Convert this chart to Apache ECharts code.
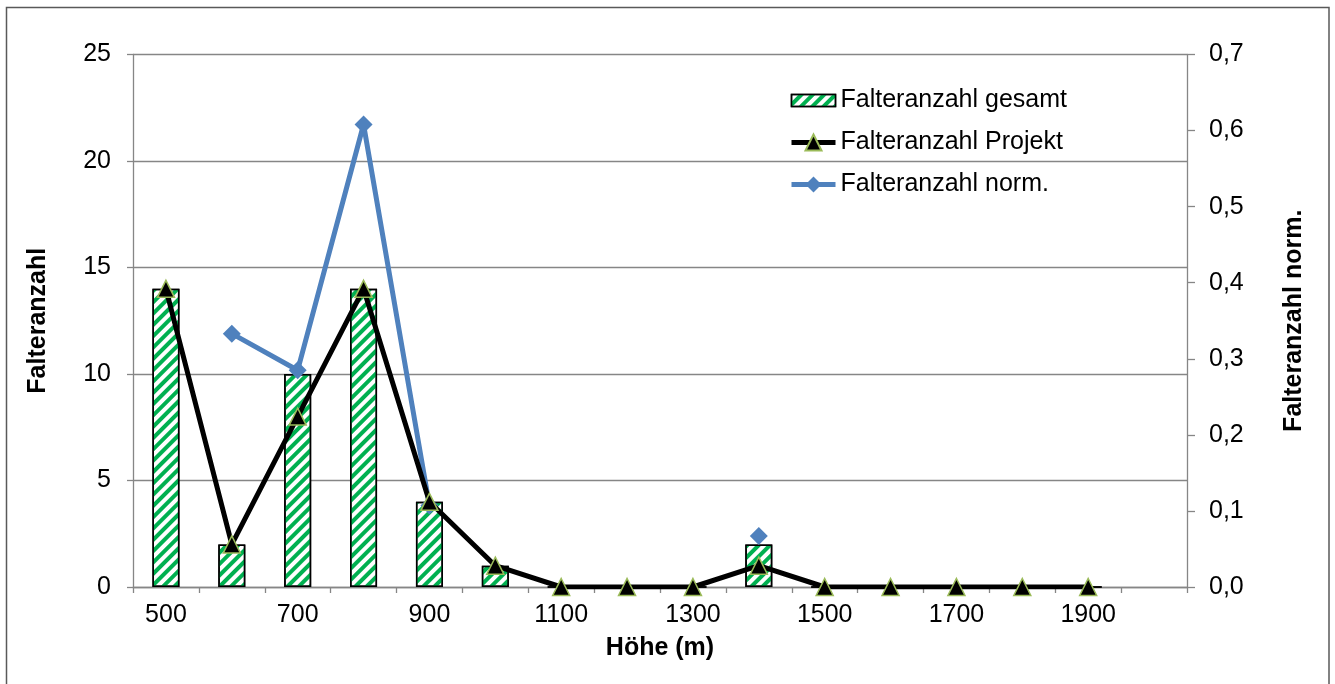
<!DOCTYPE html>
<html>
<head>
<meta charset="utf-8">
<script src="https://cdn.jsdelivr.net/npm/echarts@6/dist/echarts.min.js"></script>
<style>html,body{margin:0;padding:0;background:#fff}#c{width:1335px;height:684px}</style>
</head>
<body>
<div id="c"></div>
<script>
var categories = ['500','600','700','800','900','1000','1100','1200','1300','1400','1500','1600','1700','1800','1900','2000'];
var gesamt = [14, 2, 10, 14, 4, 1, 0, 0, 0, 2, 0, 0, 0, 0, 0, null];
var projekt = [14, 2, 8, 14, 4, 1, 0, 0, 0, 1, 0, 0, 0, 0, 0, null];
var norm = [null, 0.333, 0.285, 0.608, 0.107, null, null, null, null, 0.067, null, null, null, null, null, null];
var leftTicks = {min: 0, max: 25, interval: 5};
var rightTicks = {min: 0, max: 0.7, interval: 0.1};

var FONT = '"Liberation Sans", Arial, sans-serif';
var FS = 25;
var chart = echarts.init(document.getElementById('c'), null, {renderer: 'canvas'});
var gridColor = '#868686';
chart.setOption({
  animation: false,
  backgroundColor: '#fff',
  textStyle: {fontFamily: FONT},
  graphic: [{
    type: 'rect', silent: true, z: 100,
    shape: {x: 6.5, y: 7.5, width: 1322.5, height: 720},
    style: {fill: null, stroke: '#595959', lineWidth: 1.5}
  }],
  grid: {left: 133, right: 148, top: 54.5, bottom: 97, containLabel: false},
  legend: {
    orient: 'vertical', left: 784, top: 83, itemGap: 17,
    itemWidth: 44, itemHeight: 20,
    textStyle: {fontSize: FS, color: '#000', fontFamily: FONT, padding: [0, 0, 0, 0]},
    data: [
      {name: 'Falteranzahl gesamt', icon: 'path://M0,0H44V12H0Z',
        itemStyle: {borderColor: '#000', borderWidth: 1.5}},
      {name: 'Falteranzahl Projekt', lineStyle: {width: 5}},
      {name: 'Falteranzahl norm.', lineStyle: {width: 5}}
    ]
  },
  xAxis: {
    type: 'category', data: categories, boundaryGap: true,
    name: 'Höhe (m)', nameLocation: 'middle', nameGap: 49,
    nameTextStyle: {fontSize: FS, fontWeight: 'bold', color: '#000', fontFamily: FONT},
    axisLine: {lineStyle: {color: gridColor, width: 1.3}},
    axisTick: {show: true, interval: 0, length: 6, lineStyle: {color: gridColor, width: 1.3}},
    axisLabel: {interval: 1, fontSize: FS, color: '#000', margin: 16, fontFamily: FONT}
  },
  yAxis: [{
    type: 'value', min: leftTicks.min, max: leftTicks.max, interval: leftTicks.interval,
    name: 'Falteranzahl', nameLocation: 'middle', nameRotate: 90, nameGap: 82,
    nameTextStyle: {fontSize: FS, fontWeight: 'bold', color: '#000', fontFamily: FONT},
    axisLine: {show: true, lineStyle: {color: gridColor, width: 1.3}},
    axisTick: {show: true, length: 6, lineStyle: {color: gridColor, width: 1.3}},
    axisLabel: {fontSize: FS, color: '#000', margin: 22, fontFamily: FONT},
    splitLine: {show: true, lineStyle: {color: gridColor, width: 1.3}}
  }, {
    type: 'value', min: rightTicks.min, max: rightTicks.max, interval: rightTicks.interval,
    name: 'Falteranzahl norm.', nameLocation: 'middle', nameRotate: 90, nameGap: 95,
    nameTextStyle: {fontSize: FS, fontWeight: 'bold', color: '#000', fontFamily: FONT},
    axisLine: {show: true, lineStyle: {color: gridColor, width: 1.3}},
    axisTick: {show: true, length: 8, lineStyle: {color: gridColor, width: 1.3}},
    axisLabel: {fontSize: FS, color: '#000', margin: 22, fontFamily: FONT,
      formatter: function (v) { return v.toFixed(1).replace('.', ','); }},
    splitLine: {show: false}
  }],
  series: [{
    name: 'Falteranzahl gesamt', type: 'bar', yAxisIndex: 0, data: gesamt,
    barWidth: 27,
    itemStyle: {
      color: '#ffffff', borderColor: '#000', borderWidth: 1.5,
      decal: {symbol: 'rect', symbolSize: 1, dashArrayX: [[10, 0]], dashArrayY: [4, 4],
        rotation: -Math.PI / 4, color: '#00b050'}
    },
    z: 1
  }, {
    name: 'Falteranzahl Projekt', type: 'line', yAxisIndex: 0, data: projekt,
    symbol: 'triangle', symbolSize: 17, showSymbol: true,
    lineStyle: {color: '#000', width: 5},
    itemStyle: {color: '#000', borderColor: '#9bbb59', borderWidth: 1.5},
    z: 3
  }, {
    name: 'Falteranzahl norm.', type: 'line', yAxisIndex: 1, data: norm,
    symbol: 'diamond', symbolSize: 18, showSymbol: true, connectNulls: false,
    lineStyle: {color: '#4f81bd', width: 5},
    itemStyle: {color: '#4f81bd'},
    z: 2
  }]
});
</script>
</body>
</html>
